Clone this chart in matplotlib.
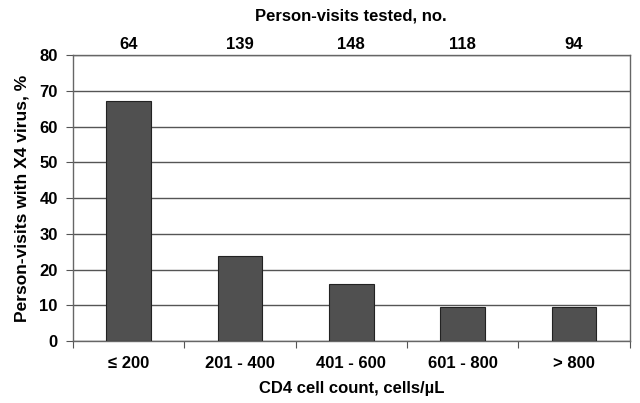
import matplotlib
matplotlib.use('Agg')
import matplotlib.pyplot as plt
import numpy as np

categories = ['\u2264 200', '201 - 400', '401 - 600', '601 - 800', '> 800']
pct_x4 = [67.2, 23.8, 15.9, 9.4, 9.5]
visits_tested = [64, 139, 148, 118, 94]

plt.rcParams['font.family'] = ['Liberation Sans', 'DejaVu Sans']
plt.rcParams['font.weight'] = 'bold'

fig = plt.figure(figsize=(6.4, 4.03), dpi=100)
ax = fig.add_axes([0.114, 0.1538, 0.870, 0.7097])

x = np.arange(len(categories))
ax.bar(x, pct_x4, width=0.4, color='#505050', edgecolor='#222222', linewidth=0.8, zorder=3)

ax.set_xlim(-0.5, len(categories) - 0.5)
ax.set_ylim(0, 80)
ax.set_yticks(np.arange(0, 81, 10))
ax.yaxis.grid(True, color='#555555', linewidth=1.0, zorder=0)
ax.set_axisbelow(True)

# ticks at category boundaries, labels at centers
ax.set_xticks(np.arange(-0.5, len(categories), 1.0))
ax.set_xticklabels([])
ax.set_xticks(x, minor=True)
ax.set_xticklabels(categories, minor=True, fontsize=12, fontweight='bold')
ax.tick_params(axis='x', which='minor', length=0, pad=11)
ax.tick_params(axis='x', which='major', length=5, color='#555555')
ax.tick_params(axis='y', length=5, color='#555555', labelsize=12, pad=6)
for lbl in ax.get_yticklabels():
    lbl.set_fontweight('bold')

for s in ax.spines.values():
    s.set_color('#666666')
    s.set_linewidth(1.0)

ax.set_ylabel('Person-visits with X4 virus, %', fontsize=12.5, fontweight='bold', labelpad=7)
ax.set_xlabel('CD4 cell count, cells/\u00b5L', fontsize=12, fontweight='bold', labelpad=7)

# counts along the top
for xi, n in zip(x, visits_tested):
    ax.text(xi, 1.012, str(n), transform=ax.get_xaxis_transform(), ha='center', va='bottom',
            fontsize=12, fontweight='bold')
fig.text(0.548, 0.96, 'Person-visits tested, no.', ha='center', va='center',
         fontsize=12, fontweight='bold')

fig.savefig('out.png', dpi=100)
